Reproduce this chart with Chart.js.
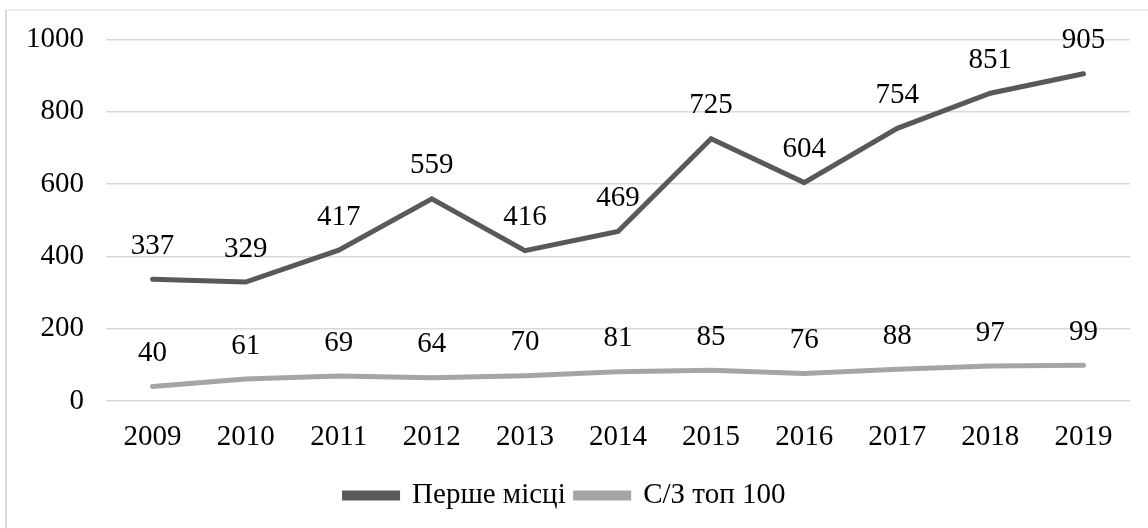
<!DOCTYPE html>
<html>
<head>
<meta charset="utf-8">
<script src="https://cdn.jsdelivr.net/npm/chart.js@4"></script>
<style>
  html, body { margin: 0; padding: 0; background: #fff; overflow: hidden; }
  #frame { position: absolute; left: 5px; top: 9px; width: 1160px; height: 540px; border: 2px solid #d9d9d9; border-top-color: #eeeeee; box-sizing: border-box; }
  #wrap { position: absolute; left: 0; top: 0; width: 1148px; height: 528px; }
</style>
</head>
<body>
<div id="frame"></div>
<div id="wrap"><canvas id="chart"></canvas></div>
<script>
// Chart data
const years = ['2009', '2010', '2011', '2012', '2013', '2014', '2015', '2016', '2017', '2018', '2019'];
const firstPlace = [337, 329, 417, 559, 416, 469, 725, 604, 754, 851, 905];
const top100 = [40, 61, 69, 64, 70, 81, 85, 76, 88, 97, 99];
const seriesNames = ['Перше місці', 'С/З топ 100'];
const yTicks = [0, 200, 400, 600, 800, 1000];

const FONT = '"Liberation Serif", "Times New Roman", serif';
const FS = 29;

// Draws the value above every point
const valueLabels = {
    id: 'valueLabels',
    afterDatasetsDraw(chart) {
        const ctx = chart.ctx;
        ctx.save();
        ctx.font = FS + 'px ' + FONT;
        ctx.fillStyle = '#000';
        ctx.textAlign = 'center';
        ctx.textBaseline = 'middle';
        chart.data.datasets.forEach((ds, i) => {
            const meta = chart.getDatasetMeta(i);
            meta.data.forEach((pt, j) => {
                ctx.fillText(String(ds.data[j]), pt.x, pt.y - 33);
            });
        });
        ctx.restore();
    }
};

const ctx = document.getElementById('chart').getContext('2d');
new Chart(ctx, {
    type: 'line',
    data: {
        labels: years,
        datasets: [
            {
                label: seriesNames[0],
                data: firstPlace,
                borderColor: '#595959',
                backgroundColor: '#595959',
                borderWidth: 5,
                pointRadius: 0,
                borderCapStyle: 'round',
                tension: 0
            },
            {
                label: seriesNames[1],
                data: top100,
                borderColor: '#a5a5a5',
                backgroundColor: '#a5a5a5',
                borderWidth: 5,
                pointRadius: 0,
                borderCapStyle: 'round',
                tension: 0
            }
        ]
    },
    options: {
        responsive: true,
        maintainAspectRatio: false,
        animation: false,
        layout: { padding: { top: 38, right: 18, bottom: 8, left: 0 } },
        scales: {
            x: {
                offset: true,
                grid: { display: false, drawTicks: false },
                border: { display: false },
                ticks: { color: '#000', font: { family: FONT, size: FS }, padding: 19, maxRotation: 0 },
                afterFit(scale) { scale.height = 70; }
            },
            y: {
                min: 0,
                max: 1000,
                afterBuildTicks(scale) { scale.ticks = yTicks.map(v => ({ value: v })); },
                grid: { color: '#d9d9d9', lineWidth: 1.5, drawTicks: false },
                border: { display: false },
                ticks: { color: '#000', font: { family: FONT, size: FS }, padding: 22, callback: v => String(v) },
                afterFit(scale) { scale.width = 106; }
            }
        },
        plugins: {
            legend: {
                position: 'bottom',
                labels: {
                    color: '#000',
                    font: { family: FONT, size: FS },
                    boxWidth: 53,
                    boxHeight: 5,
                    padding: 10
                }
            },
            tooltip: { enabled: false }
        }
    },
    plugins: [valueLabels]
});
</script>
</body>
</html>
